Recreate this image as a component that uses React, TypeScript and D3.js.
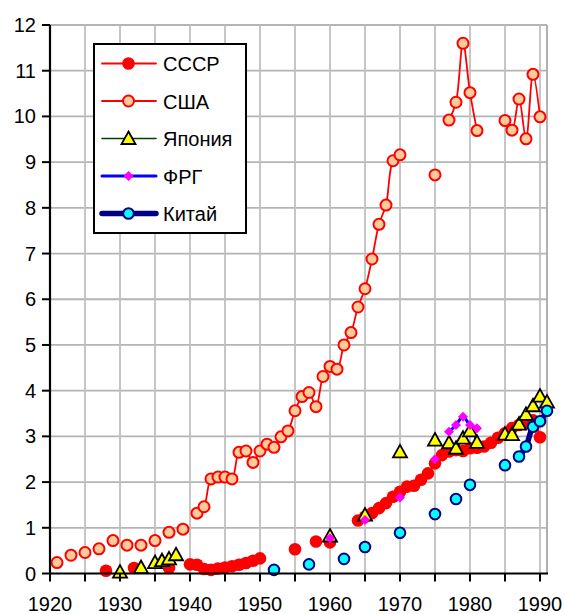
import React from "react";
import * as d3 from "d3";

// ---- Data ----
const ussrYears = [1928, 1932, 1937, 1940, 1941, 1942, 1943, 1944, 1945, 1946, 1947, 1948, 1949, 1950, 1955, 1958, 1960,
  1964, 1965, 1966, 1967, 1968, 1969, 1970, 1971, 1972, 1973, 1974, 1975, 1976, 1977, 1978, 1979, 1980, 1981, 1982, 1983,
  1984, 1985, 1986, 1987, 1988, 1989, 1990];
const ussrValues = [0.06, 0.12, 0.12, 0.2, 0.19, 0.1, 0.08, 0.11, 0.13, 0.16, 0.19, 0.23, 0.28, 0.33, 0.53, 0.7, 0.68,
  1.16, 1.24, 1.32, 1.43, 1.54, 1.68, 1.79, 1.9, 1.92, 2.05, 2.19, 2.41, 2.59, 2.67, 2.7, 2.68, 2.74, 2.75, 2.78, 2.86,
  2.97, 3.07, 3.18, 3.25, 3.3, 3.35, 2.98];

const usaYears = [1921, 1923, 1925, 1927, 1929, 1931, 1933, 1935, 1937, 1939, 1941, 1942, 1943, 1944, 1945, 1946, 1947,
  1948, 1949, 1950, 1951, 1952, 1953, 1954, 1955, 1956, 1957, 1958, 1959, 1960, 1961, 1962, 1963, 1964, 1965, 1966, 1967,
  1968, 1969, 1970, 1975, 1977, 1978, 1979, 1980, 1981, 1985, 1986, 1987, 1988, 1989, 1990];
const usaValues = [0.24, 0.4, 0.46, 0.54, 0.72, 0.62, 0.62, 0.72, 0.9, 0.97, 1.32, 1.46, 2.07, 2.11, 2.11, 2.07, 2.65,
  2.68, 2.43, 2.68, 2.83, 2.76, 2.99, 3.12, 3.56, 3.87, 3.96, 3.65, 4.31, 4.53, 4.47, 5.0, 5.27, 5.83, 6.23, 6.88, 7.64,
  8.06, 9.03, 9.16, 8.72, 9.92, 10.31, 11.6, 10.52, 9.69, 9.91, 9.7, 10.38, 9.51, 10.92, 9.99];

const japanYears = [1930, 1933, 1935, 1936, 1937, 1938, 1960, 1965, 1970, 1975, 1977, 1978, 1979, 1980, 1981, 1985, 1986,
  1987, 1988, 1989, 1990, 1991];
const japanValues = [0.03, 0.13, 0.24, 0.28, 0.32, 0.41, 0.82, 1.28, 2.66, 2.92, 2.86, 2.74, 2.96, 3.12, 2.87, 3.05, 3.04,
  3.27, 3.48, 3.67, 3.88, 3.75];

const frgYears = [1960, 1965, 1970, 1975, 1977, 1978, 1979, 1980, 1981];
const frgValues = [0.77, 1.17, 1.66, 2.5, 3.1, 3.25, 3.43, 3.25, 3.18];

const chinaYears = [1952, 1957, 1962, 1965, 1970, 1975, 1978, 1980, 1985, 1987, 1988, 1989, 1990, 1991];
const chinaValues = [0.08, 0.2, 0.32, 0.58, 0.89, 1.3, 1.63, 1.94, 2.37, 2.56, 2.78, 3.21, 3.33, 3.56];

const xTickLabels = [1920, 1930, 1940, 1950, 1960, 1970, 1980, 1990];
const yTickLabels = [0, 1, 2, 3, 4, 5, 6, 7, 8, 9, 10, 11, 12];
const seriesNames = ["СССР", "США", "Япония", "ФРГ", "Китай"];

// ---- Layout ----
const W = 565, H = 614;
const left = 50, right = 547, top = 25, bottom = 573.5;
const x = d3.scaleLinear().domain([1920, 1991]).range([left, right]);
const y = d3.scaleLinear().domain([0, 12]).range([bottom, top]);
const FONT = "'Liberation Sans', Arial, sans-serif";

type Pt = { yr: number; v: number };
function toPts(years: number[], vals: number[]): (Pt | null)[] {
  const out: (Pt | null)[] = [];
  years.forEach((yr, i) => {
    if (i > 0 && yr - years[i - 1] > 1) out.push(null);
    out.push({ yr, v: vals[i] });
  });
  return out;
}

const lineGen = d3
  .line<Pt | null>()
  .defined((d) => d !== null)
  .x((d) => x((d as Pt).yr))
  .y((d) => y((d as Pt).v))
  .curve(d3.curveCatmullRom.alpha(0.5));

const triPath = "M0,-7L7,5.5L-7,5.5Z";
const diaPath = "M0,-5L5,0L0,5L-5,0Z";

function Marker({ kind, cx, cy }: { kind: number; cx: number; cy: number }) {
  if (kind === 0) return <circle cx={cx} cy={cy} r={6.3} fill="#ff0000" />;
  if (kind === 1) return <circle cx={cx} cy={cy} r={5.5} fill="#ffcc99" stroke="#ff0000" strokeWidth={2} />;
  if (kind === 2)
    return <path d={triPath} transform={`translate(${cx},${cy})`} fill="#ffff00" stroke="#000" strokeWidth={1.8} strokeLinejoin="miter" />;
  if (kind === 3) return <path d={diaPath} transform={`translate(${cx},${cy})`} fill="#ff00ff" />;
  return <circle cx={cx} cy={cy} r={5.3} fill="#00ffff" stroke="#000080" strokeWidth={2} />;
}

const lineStyles = [
  { color: "#ff0000", width: 1.8 },
  { color: "#ff0000", width: 1.8 },
  { color: "#004000", width: 1.6 },
  { color: "#0000ff", width: 3 },
  { color: "#000080", width: 5.5 },
];

export default function App() {
  const series = [
    { years: ussrYears, vals: ussrValues },
    { years: usaYears, vals: usaValues },
    { years: japanYears, vals: japanValues },
    { years: frgYears, vals: frgValues },
    { years: chinaYears, vals: chinaValues },
  ];
  const xGrid = d3.range(1925, 1992, 5);
  const xTicks = d3.range(1920, 1991, 5);

  return (
    <svg width={W} height={H} style={{ position: "absolute", left: 0, top: 0, background: "#fff" }} fontFamily={FONT}>
      {/* grid */}
      {yTickLabels.slice(1).map((t) => (
        <line key={"gy" + t} x1={left} x2={right} y1={y(t)} y2={y(t)} stroke="#b4b4b4" strokeWidth={1.8} />
      ))}
      {xGrid.map((t) => (
        <line key={"gx" + t} x1={x(t)} x2={x(t)} y1={top} y2={bottom} stroke="#c0c0c0" strokeWidth={1.8} />
      ))}
      <line x1={right} x2={right} y1={top} y2={bottom} stroke="#a8a8a8" strokeWidth={1.8} />

      {/* series */}
      {series.map((s, i) => {
        const pts = toPts(s.years, s.vals);
        return (
          <g key={"s" + i}>
            <path d={lineGen(pts) || ""} fill="none" stroke={lineStyles[i].color} strokeWidth={lineStyles[i].width} strokeLinecap="round" strokeLinejoin="round" />
            {s.years.map((yr, j) => (
              <Marker key={j} kind={i} cx={x(yr)} cy={y(s.vals[j])} />
            ))}
          </g>
        );
      })}

      {/* axes */}
      <line x1={left} x2={left} y1={top} y2={bottom} stroke="#000" strokeWidth={2.2} />
      <line x1={left - 1} x2={right + 1} y1={bottom} y2={bottom} stroke="#000" strokeWidth={2.2} />
      {yTickLabels.map((t) => (
        <g key={"yt" + t}>
          <line x1={left - 8} x2={left} y1={y(t)} y2={y(t)} stroke="#000" strokeWidth={2} />
          <text x={36} y={y(t) + 7} textAnchor="end" fontSize={20} fill="#000">
            {t}
          </text>
        </g>
      ))}
      {xTicks.map((t) => (
        <line key={"xt" + t} x1={x(t)} x2={x(t)} y1={bottom} y2={bottom + 8} stroke="#000" strokeWidth={2} />
      ))}
      {xTickLabels.map((t) => (
        <text key={"xl" + t} x={x(t)} y={611} textAnchor="middle" fontSize={20} fill="#000">
          {t}
        </text>
      ))}

      {/* legend */}
      <rect x={94} y={44} width={152} height={189} fill="#fff" stroke="#000" strokeWidth={2} />
      {seriesNames.map((name, i) => {
        const cy = 63.5 + i * 37.5;
        return (
          <g key={"lg" + i}>
            <line x1={102} x2={156} y1={cy} y2={cy} stroke={lineStyles[i].color} strokeWidth={lineStyles[i].width} strokeLinecap="round" />
            <Marker kind={i} cx={128.5} cy={cy} />
            <text x={163} y={cy + 7.5} fontSize={20} fill="#000">
              {name}
            </text>
          </g>
        );
      })}
    </svg>
  );
}
